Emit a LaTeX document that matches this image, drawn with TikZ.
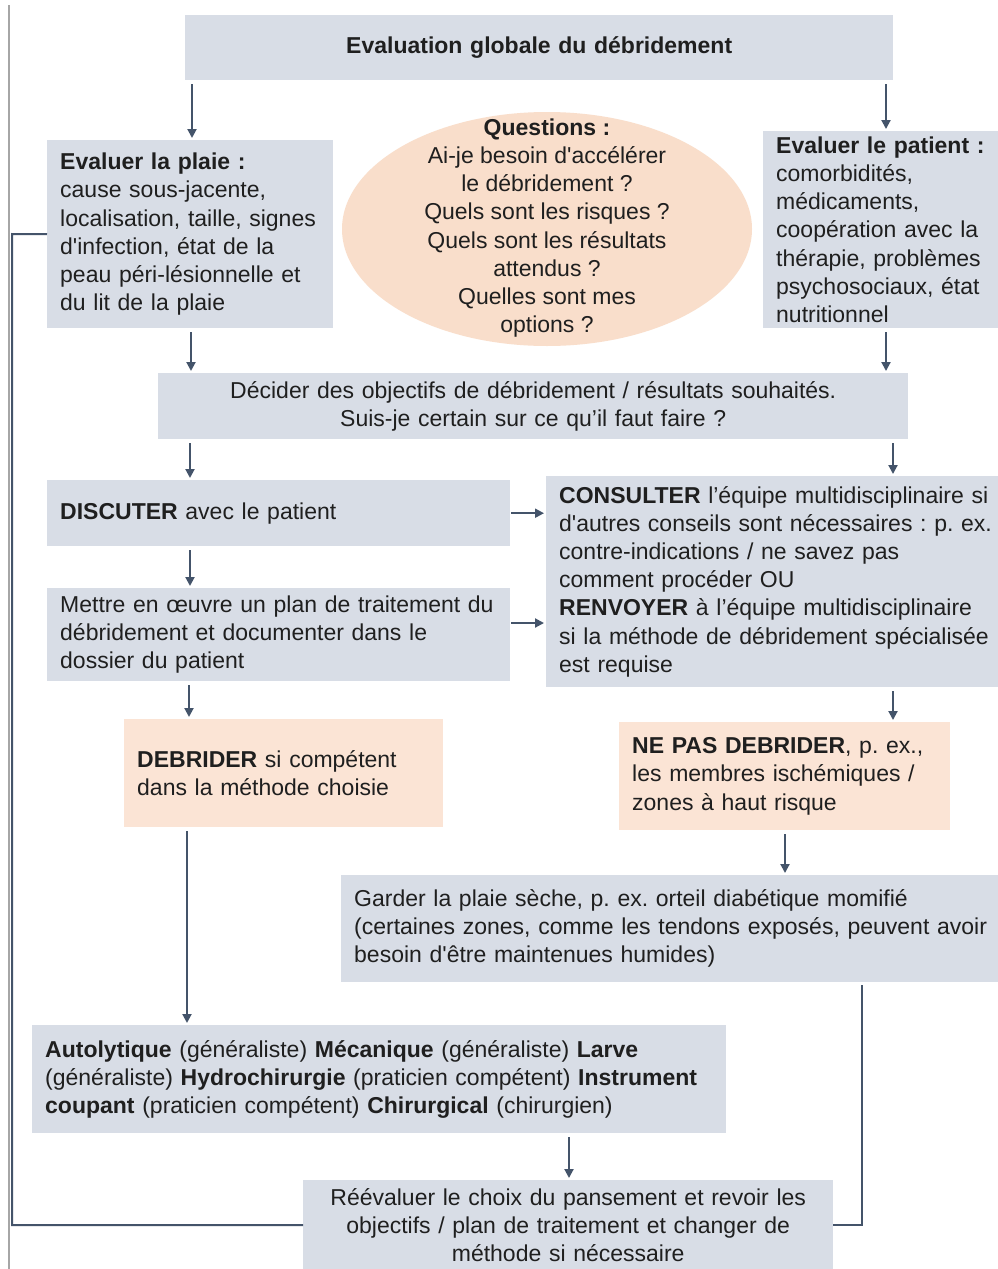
\documentclass[tikz,border=0pt]{standalone}
\usepackage{fontspec}
\setmainfont{Liberation Sans}
\usetikzlibrary{arrows.meta}
\definecolor{bleugris}{HTML}{D8DDE6}
\definecolor{saumon}{HTML}{FBE4D5}
\definecolor{bulle}{HTML}{F9DECB}
\definecolor{fleche}{HTML}{44546A}
\definecolor{encre}{HTML}{1F1F1F}
\newcommand{\apos}{\textquotesingle}
\frenchspacing
\tikzset{
  boite/.style={fill=bleugris, inner xsep=13pt, inner ysep=0pt, anchor=north west, align=left, text=encre},
  rose/.style={boite, fill=saumon},
  fl/.style={draw=fleche, line width=2pt, -{Triangle[length=9pt,width=9pt]}, shorten <=4pt, shorten >=2pt},
  retour/.style={draw=fleche, line width=2pt},
}
\begin{document}
\begin{tikzpicture}[x=1pt, y=-1pt, font=\fontsize{23}{28.2}\selectfont]
  \useasboundingbox[fill=white] (0,0) rectangle (997,1269);
  \draw[gray!70, line width=2pt] (9,5) -- (9,1269);

  \node[boite, align=center, text width=682pt, minimum height=65pt] (titre) at (185,15)
    {\textbf{Evaluation globale du débridement}};
  \node[boite, text width=260pt, minimum height=188pt] (plaie) at (47,140)
    {\textbf{Evaluer la plaie :}\\ cause sous-jacente,\\ localisation, taille, signes\\
     d\apos infection, état de la\\ peau péri-lésionnelle et\\ du lit de la plaie};
  \fill[bulle] (547,229) ellipse [x radius=205, y radius=117];
  \node[align=center, inner sep=0pt, text=encre] (questions) at (547,228)
    {\textbf{Questions :}\\ Ai-je besoin d\apos accélérer\\ le débridement ?\\ Quels sont les risques ?\\
     Quels sont les résultats\\ attendus ?\\ Quelles sont mes\\ options ?};
  \node[boite, text width=221pt, minimum height=197pt] (patient) at (763,131)
    {\textbf{Evaluer le patient :}\\ comorbidités,\\ médicaments,\\ coopération avec la\\
     thérapie, problèmes\\ psychosociaux, état\\ nutritionnel};
  \node[boite, align=center, text width=724pt, minimum height=66pt] (decider) at (158,373)
    {Décider des objectifs de débridement / résultats souhaités.\\ Suis-je certain sur ce qu’il faut faire ?};
  \node[boite, text width=437pt, minimum height=66pt] (discuter) at (47,480)
    {\textbf{DISCUTER} avec le patient};
  \node[boite, text width=437pt, minimum height=93pt] (mettre) at (47,588)
    {Mettre en œuvre un plan de traitement du\\ débridement et documenter dans le\\ dossier du patient};
  \node[boite, text width=438pt, minimum height=211pt] (consulter) at (546,476)
    {\textbf{CONSULTER} l’équipe multidisciplinaire si\\ d\apos autres conseils sont nécessaires : p. ex.\\
     contre-indications / ne savez pas\\ comment procéder OU\\ \textbf{RENVOYER} à l’équipe multidisciplinaire\\
     si la méthode de débridement spécialisée\\ est requise};
  \node[rose, text width=293pt, minimum height=108pt] (debrider) at (124,719)
    {\textbf{DEBRIDER} si compétent\\ dans la méthode choisie};
  \node[rose, text width=305pt, minimum height=108pt] (nepas) at (619,722)
    {\textbf{NE PAS DEBRIDER}, p. ex.,\\ les membres ischémiques /\\ zones à haut risque};
  \node[boite, text width=643pt, minimum height=107pt] (garder) at (341,875)
    {Garder la plaie sèche, p. ex. orteil diabétique momifié\\ (certaines zones, comme les tendons exposés, peuvent avoir\\
     besoin d\apos être maintenues humides)};
  \node[boite, text width=668pt, minimum height=108pt] (methodes) at (32,1025)
    {\textbf{Autolytique} (généraliste) \textbf{Mécanique} (généraliste) \textbf{Larve}\\
     (généraliste) \textbf{Hydrochirurgie} (praticien compétent) \textbf{Instrument}\\
     \textbf{coupant} (praticien compétent) \textbf{Chirurgical} (chirurgien)};
  \node[boite, align=center, text width=504pt, minimum height=90pt] (reeval) at (303,1180)
    {Réévaluer le choix du pansement et revoir les\\ objectifs / plan de traitement et changer de\\ méthode si nécessaire};
  \coordinate (coin) at (12,234);

  \begin{scope}[fl]
    \draw (titre.south -| 192,0) -- (plaie.north -| 192,0);
    \draw (titre.south -| 886,0) -- (patient.north -| 886,0);
    \draw (plaie.south -| 191,0) -- (decider.north -| 191,0);
    \draw (patient.south -| 886,0) -- (decider.north -| 886,0);
    \draw (decider.south -| 190,0) -- (discuter.north -| 190,0);
    \draw (decider.south -| 893,0) -- (consulter.north -| 893,0);
    \draw (discuter.south -| 190,0) -- (mettre.north -| 190,0);
    \draw[shorten <=1pt] (discuter.east) -- (consulter.west |- discuter.east);
    \draw[shorten <=1pt] (mettre.east |- 0,623) -- (consulter.west |- 0,623);
    \draw (mettre.south -| 189,0) -- (debrider.north -| 189,0);
    \draw (consulter.south -| 893,0) -- (nepas.north -| 893,0);
    \draw (nepas.south -| 785,0) -- (garder.north -| 785,0);
    \draw (debrider.south -| 187,0) -- (methodes.north -| 187,0);
    \draw (methodes.south -| 569,0) -- (reeval.north -| 569,0);
  \end{scope}
  \begin{scope}[retour]
    \draw ([yshift=-3pt]garder.south -| 862,0) |- (reeval.east);
    \draw (reeval.west) -| (coin) -- (plaie.west);
  \end{scope}
\end{tikzpicture}
\end{document}
